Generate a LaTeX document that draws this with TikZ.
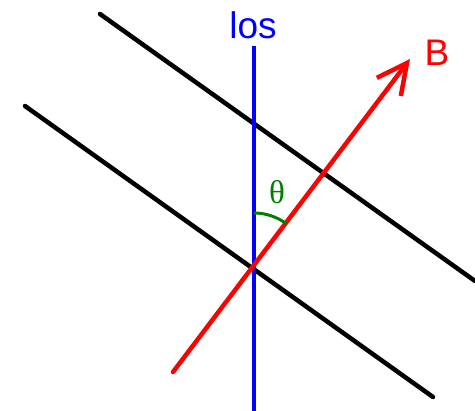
\documentclass[tikz,border=0pt]{standalone}
\usepackage{fontspec}
\setmainfont{Liberation Sans}
\newfontfamily\thetafont{Liberation Serif}
\usetikzlibrary{arrows.meta,calc}
\definecolor{losblue}{RGB}{0,0,255}
\definecolor{bred}{RGB}{255,0,0}
\definecolor{agreen}{RGB}{0,128,0}
\tikzset{
  plane/.style={line width=4.5pt, black, line cap=round},
  losline/.style={line width=4.5pt, losblue},
  bline/.style={line width=4.5pt, bred, line cap=round, -{Straight Barb[length=30pt,width=30pt,line width=4.5pt]}},
  anglearc/.style={line width=3pt, agreen},
  lbl/.style={inner sep=0pt, font=\fontsize{37}{40}\selectfont}
}
\begin{document}
\begin{tikzpicture}[x=1pt,y=-1pt]
\useasboundingbox (0,0) rectangle (475,411);
\coordinate (u1) at (100,14);
\coordinate (u2) at (475,281);
\coordinate (l1) at (25,106);
\coordinate (l2) at (433,397);
\coordinate (v1) at (254,46);
\coordinate (v2) at (254,411);
\coordinate (r1) at (173,372);
\coordinate (r2) at (410,59);
\coordinate (o) at (254,267);
\draw[plane] (u1) -- (u2);
\draw[plane] (l1) -- (l2);
\draw[losline] (v1) -- (v2);
\draw[bline] (r1) -- (r2);
\draw[anglearc] ($(o)+(0,-54)$) arc[start angle=-90, end angle=-53, radius=54];
\node[lbl, text=losblue] (los) at (253,25) {los};
\node[lbl, text=bred] (B) at (437,53) {B};
\node[inner sep=0pt, text=agreen, font=\thetafont\fontsize{33}{36}\selectfont] (th) at (277,192) {θ};
\end{tikzpicture}
\end{document}
